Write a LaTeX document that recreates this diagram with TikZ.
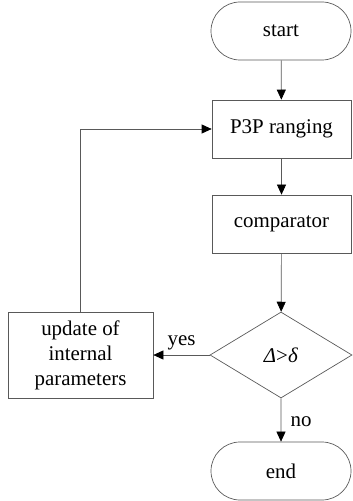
\documentclass[tikz,border=0pt]{standalone}
\usepackage{fontspec}
\setmainfont{Liberation Serif}
\usetikzlibrary{arrows.meta,shapes.geometric,shapes.misc}
\begin{document}
\begin{tikzpicture}[x=1bp,y=-1bp,
  every node/.style={font=\fontsize{21}{24}\selectfont},
  boxline/.style={draw=black!65, line width=0.7bp},
  term/.style={boxline, rounded rectangle, minimum width=140bp, minimum height=58bp, inner sep=0pt},
  procbox/.style={boxline, rectangle, minimum width=139bp, minimum height=58bp, inner sep=0pt},
  decision/.style={boxline, diamond, minimum width=142bp, minimum height=86bp, inner sep=0pt, aspect=1.65},
  conn/.style={draw=black!65, line width=0.7bp, -{Triangle[length=10bp,width=9bp,fill=black,color=black]}}
]
\useasboundingbox (0,0) rectangle (352,501);
\node[term] (start) at (281,31) {start};
\node[procbox] (p3p) at (281.5,129) {P3P ranging};
\node[procbox] (comp) at (281.5,224) {comparator};
\node[decision] (dec) at (281,355) {\textit{Δ}>\textit{δ}};
\node[procbox, minimum width=145bp, minimum height=86bp, align=center, font=\fontsize{21}{25}\selectfont] (upd) at (80.5,355) {update of\\internal\\parameters};
\node[term] (end) at (281,471) {end};
\draw[conn] (start) -- (p3p);
\draw[conn] (p3p) -- (comp);
\draw[conn] (comp) -- (dec);
\draw[conn] (dec) -- node[right, xshift=6bp, yshift=-2bp] (no) {no} (end);
\draw[conn] (dec) -- node[above, yshift=1bp] (yes) {yes} (upd);
\draw[conn] (upd.north) |- (p3p.west);
\end{tikzpicture}
\end{document}
